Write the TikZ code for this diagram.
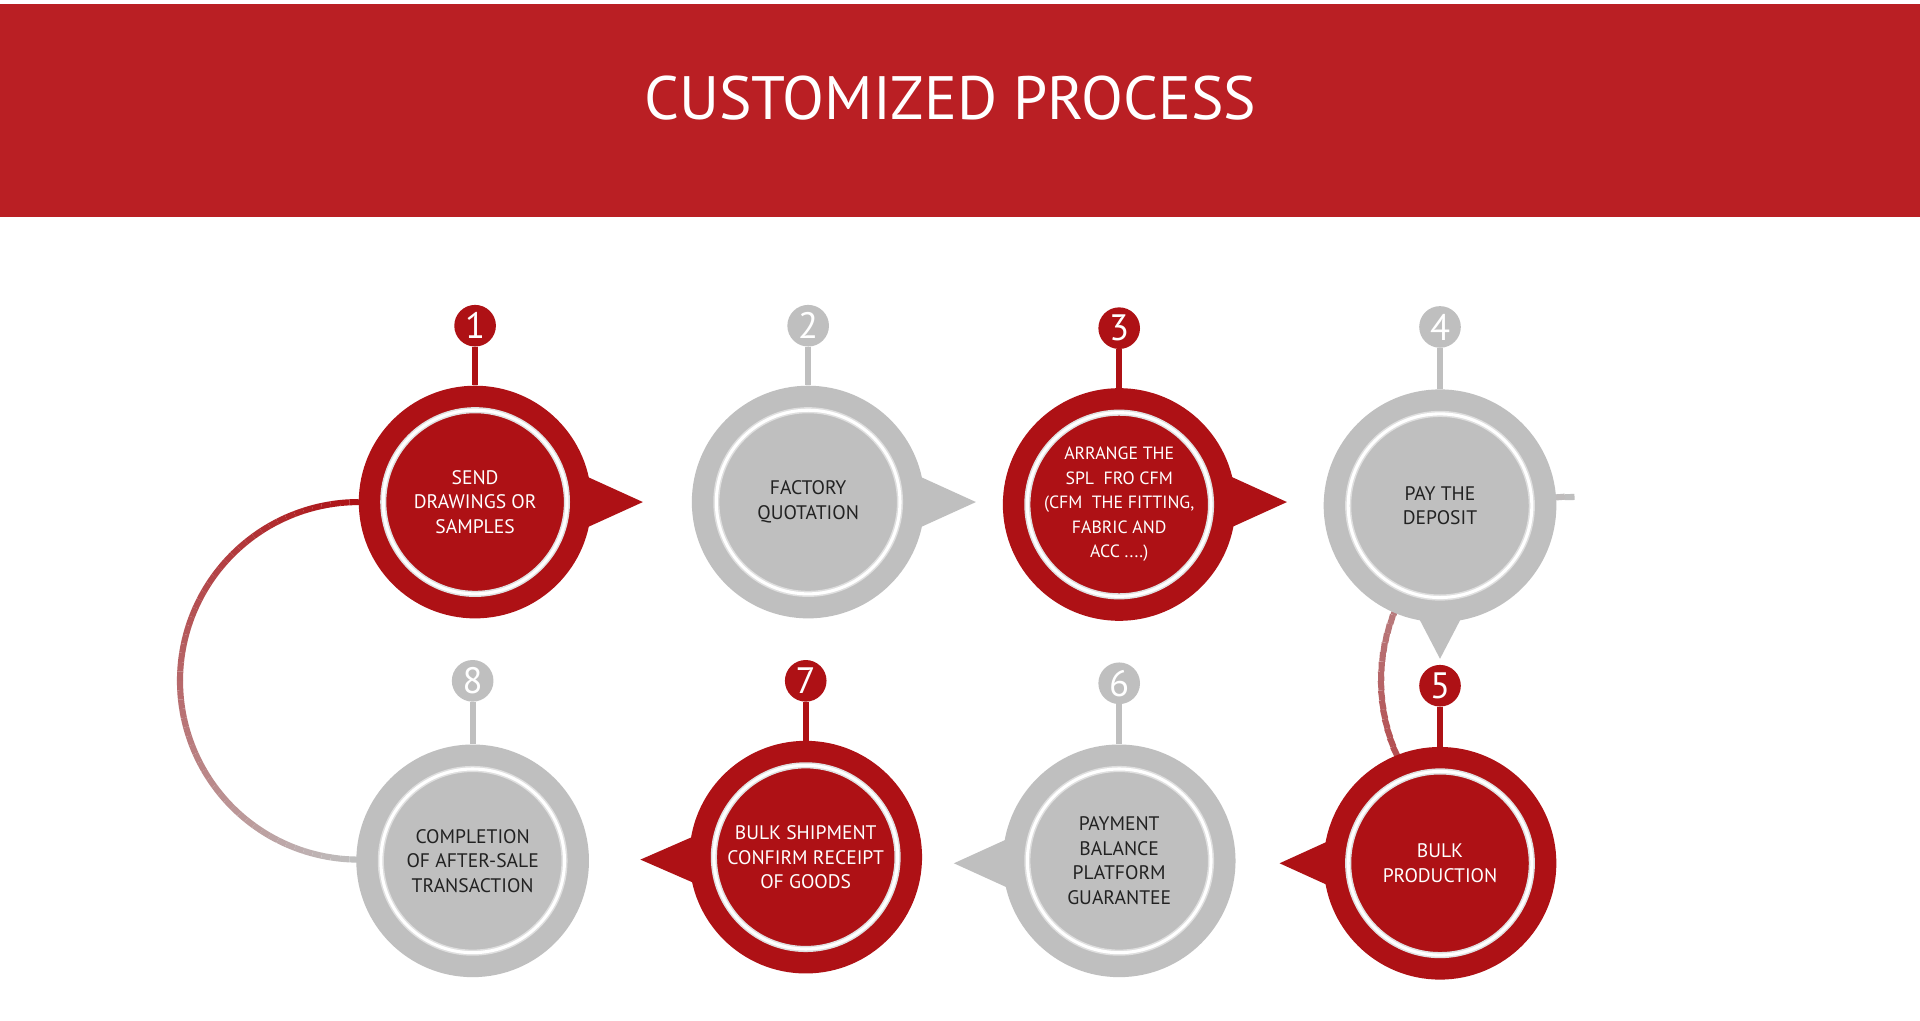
\documentclass[tikz,border=0pt]{standalone}
\usepackage{fontspec}
\setmainfont{PT Sans}
\definecolor{hdr}{HTML}{BA1F24}
\definecolor{cred}{HTML}{AE1115}
\definecolor{cgray}{HTML}{BFBFBF}
\definecolor{dtext}{HTML}{222222}
\begin{document}
\begin{tikzpicture}[x=1pt,y=-1pt,
  disc/.style={circle,minimum size=190pt,inner sep=0pt,align=center,font=\fontsize{16}{20}\selectfont},
  rdisc/.style={disc,fill=cred,text=white},
  gdisc/.style={disc,fill=cgray,text=dtext},
  badge/.style={circle,minimum size=34pt,inner sep=0pt,text=white,font=\fontsize{30}{30}\selectfont}]
\fill[white] (0,0) rectangle (1568,833);
\useasboundingbox (0,0) rectangle (1568,833);
\fill[hdr] (0,3) rectangle (1568,177);
\node[text=white,font=\fontsize{50}{56}\selectfont] (title) at (776,80) {CUSTOMIZED PROCESS};
% gradient arcs
\foreach \i in {0,...,59}{
  \pgfmathsetmacro{\a}{90+\i*3}
  \pgfmathsetmacro{\b}{93+\i*3}
  \pgfmathsetmacro{\p}{100-\i*100/59}
  \draw[line width=5pt,color=cred!\p!cgray] ({293+146*cos(\a)},{556-146*sin(\a)}) arc[start angle=-\a,end angle=-\b,radius=146];
  \draw[line width=5pt,color=cgray!\p!cred] ({1278+150*cos(\a)},{556-150*sin(\a)}) arc[start angle=-\a+180,end angle=-\b+180,radius=150];
}
% pointers
\fill[cred] (470,385) -- (525,410) -- (470,435) -- cycle;
\fill[cgray] (742,385) -- (797,410) -- (742,435) -- cycle;
\fill[cred] (996,385) -- (1051,410) -- (996,435) -- cycle;
\fill[cgray] (1151,490) -- (1176,538) -- (1201,490) -- cycle;
\fill[cred] (1100,680) -- (1045,705) -- (1100,730) -- cycle;
\fill[cgray] (834,680) -- (779,705) -- (834,730) -- cycle;
\fill[cred] (578,678) -- (523,702) -- (578,726) -- cycle;
% discs
\node[rdisc] (c1) at (388,410) {SEND\\DRAWINGS OR\\SAMPLES};
\node[gdisc] (c2) at (660,410) {FACTORY\\QUOTATION};
\node[rdisc,font=\fontsize{14.5}{20}\selectfont] (c3) at (914,412) {ARRANGE THE\\SPL\ \ FRO CFM\\(CFM\ \ THE FITTING,\\FABRIC AND\\ACC ....)};
\node[gdisc] (c4) at (1176,413) {PAY THE\\DEPOSIT};
\node[rdisc] (c5) at (1176,705) {BULK\\PRODUCTION};
\node[gdisc] (c6) at (914,703) {PAYMENT\\BALANCE\\PLATFORM\\GUARANTEE};
\node[rdisc] (c7) at (658,700) {BULK SHIPMENT\\CONFIRM RECEIPT\\OF GOODS};
\node[gdisc] (c8) at (386,703) {COMPLETION\\OF AFTER-SALE\\TRANSACTION};
\foreach \c in {c1,c2,c3,c4,c5,c6,c7,c8}{
  \draw[white!75!gray,line width=5pt] (\c.center) circle[radius=75];
  \draw[white,line width=2.5pt] (\c.center) circle[radius=75];
}
% badges
\node[badge,fill=cred] (b1) at (388,266) {1};
\node[badge,fill=cgray] (b2) at (660,266) {2};
\node[badge,fill=cred] (b3) at (914,268) {3};
\node[badge,fill=cgray] (b4) at (1176,267) {4};
\node[badge,fill=cred] (b5) at (1176,560) {5};
\node[badge,fill=cgray] (b6) at (914,558) {6};
\node[badge,fill=cred] (b7) at (658,556) {7};
\node[badge,fill=cgray] (b8) at (386,556) {8};
\draw[cred,line width=5pt] (b1) -- (c1);
\draw[cgray,line width=5pt] (b2) -- (c2);
\draw[cred,line width=5pt] (b3) -- (c3);
\draw[cgray,line width=5pt] (b4) -- (c4);
\draw[cred,line width=5pt] (b5) -- (c5);
\draw[cgray,line width=5pt] (b6) -- (c6);
\draw[cred,line width=5pt] (b7) -- (c7);
\draw[cgray,line width=5pt] (b8) -- (c8);
\end{tikzpicture}
\end{document}
